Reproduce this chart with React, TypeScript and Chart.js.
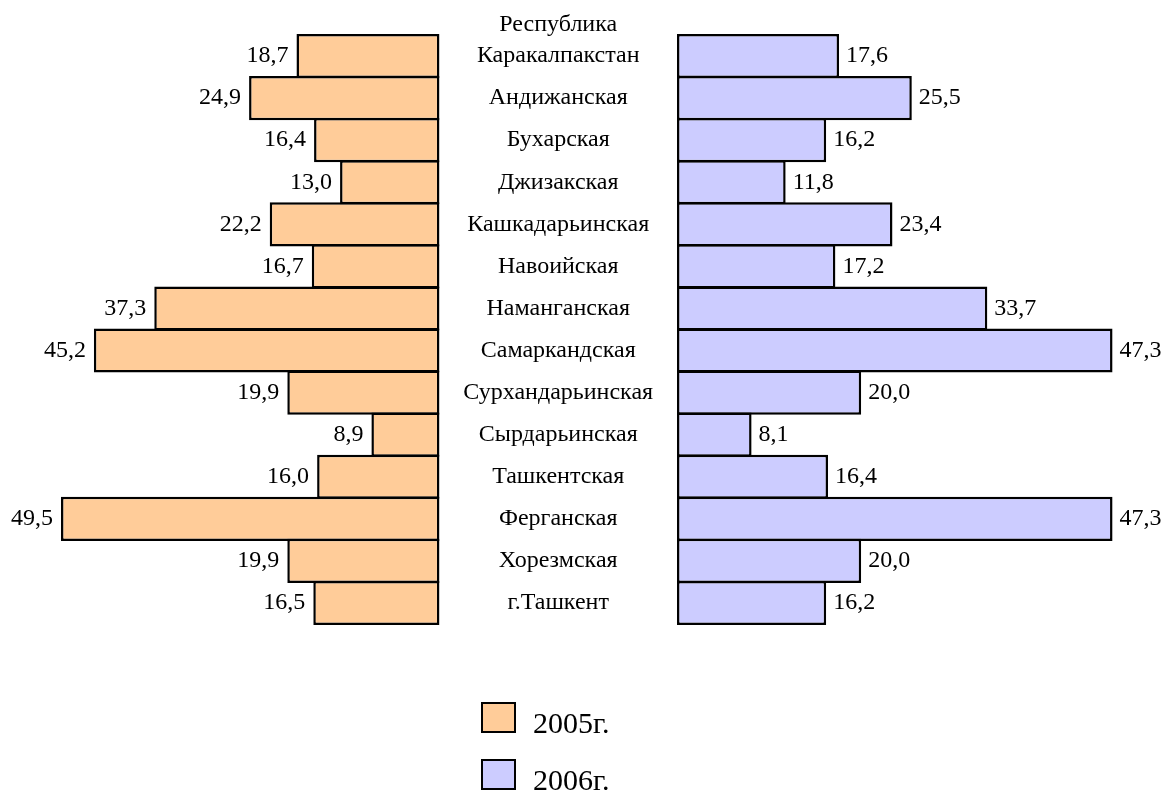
import React, { useEffect, useRef } from 'react';
import { Chart, registerables } from 'chart.js';

Chart.register(...registerables);

const categories: (string | string[])[] = [
  ['Республика', 'Каракалпакстан'],
  'Андижанская',
  'Бухарская',
  'Джизакская',
  'Кашкадарьинская',
  'Навоийская',
  'Наманганская',
  'Самаркандская',
  'Сурхандарьинская',
  'Сырдарьинская',
  'Ташкентская',
  'Ферганская',
  'Хорезмская',
  'г.Ташкент',
];
const values2005 = [18.7, 24.9, 16.4, 13.0, 22.2, 16.7, 37.3, 45.2, 19.9, 8.9, 16.0, 49.5, 19.9, 16.5];
const values2006 = [17.6, 25.5, 16.2, 11.8, 23.4, 17.2, 33.7, 47.3, 20.0, 8.1, 16.4, 47.3, 20.0, 16.2];
const seriesLabels = ['2005г.', '2006г.'];
const seriesColors = ['#FFCC99', '#CCCCFF'];

const FONT = '"Liberation Serif", "Times New Roman", serif';
const fmt = (v: number) => v.toFixed(1).replace('.', ',');

const labelsPlugin = {
  id: 'butterflyLabels',
  afterDatasetsDraw(chart: any) {
    const ctx = chart.ctx;
    ctx.save();
    ctx.font = `24px ${FONT}`;
    ctx.fillStyle = '#000';
    ctx.textBaseline = 'middle';
    const left = chart.getDatasetMeta(0);
    const right = chart.getDatasetMeta(1);
    left.data.forEach((bar: any, i: number) => {
      ctx.textAlign = 'right';
      ctx.fillText(fmt(values2005[i]), bar.x - 8, bar.y);
    });
    right.data.forEach((bar: any, i: number) => {
      ctx.textAlign = 'left';
      ctx.fillText(fmt(values2006[i]), bar.x + 7, bar.y);
    });
    const yScale = chart.scales.y;
    ctx.textAlign = 'center';
    categories.forEach((c, i) => {
      const y = yScale.getPixelForValue(i);
      const cx = (left.data[i].base + right.data[i].base) / 2;
      const lines = Array.isArray(c) ? c : [c];
      lines.forEach((ln, j) => {
        ctx.fillText(ln, cx, y - (lines.length - 1 - j) * 31);
      });
    });
    ctx.restore();
  },
};

export default function App() {
  const ref = useRef<HTMLCanvasElement | null>(null);
  useEffect(() => {
    if (!ref.current) return;
    const common = {
      borderColor: '#000',
      borderWidth: 2.5,
      borderSkipped: false,
      inflateAmount: 0,
      barPercentage: 1.05,
      categoryPercentage: 1,
      grouped: false,
      clip: false,
    };
    const chart = new Chart(ref.current, {
      type: 'bar',
      data: {
        labels: categories as any,
        datasets: [
          {
            ...common,
            label: seriesLabels[0],
            data: values2005,
            xAxisID: 'xL',
            backgroundColor: seriesColors[0],
          } as any,
          {
            ...common,
            label: seriesLabels[1],
            data: values2006,
            xAxisID: 'xR',
            backgroundColor: seriesColors[1],
          } as any,
        ],
      },
      options: {
        indexAxis: 'y',
        responsive: false,
        animation: false,
        layout: { padding: { top: 35, bottom: 167, left: 61, right: 49 } },
        scales: {
          y: { type: 'category', display: false, offset: true },
          xL: { type: 'linear', position: 'bottom', reverse: true, min: -88.1, max: 49.5, display: false },
          xR: { type: 'linear', position: 'bottom', min: -66.9, max: 47.35, display: false },
        },
        plugins: {
          legend: { display: false },
          tooltip: { enabled: false },
        },
      },
      plugins: [labelsPlugin],
    });
    return () => chart.destroy();
  }, []);

  return (
    <div style={{ position: 'fixed', left: 0, top: 0, width: 1162, height: 791, background: '#fff', overflow: 'hidden' }}>
      <canvas ref={ref} width={1162} height={791} style={{ display: 'block', width: 1162, height: 791 }} />
      {seriesLabels.map((lbl, i) => (
        <div
          key={lbl}
          style={{
            position: 'absolute',
            left: 481,
            top: 702 + i * 57,
            display: 'flex',
            alignItems: 'baseline',
          }}
        >
          <div
            style={{
              width: 35,
              height: 31,
              boxSizing: 'border-box',
              border: '2px solid #000',
              background: seriesColors[i],
              marginRight: 17,
            }}
          />
          <span style={{ font: `30px ${FONT}`, color: '#000', lineHeight: '34px', whiteSpace: 'nowrap' }}>{lbl}</span>
        </div>
      ))}
    </div>
  );
}
